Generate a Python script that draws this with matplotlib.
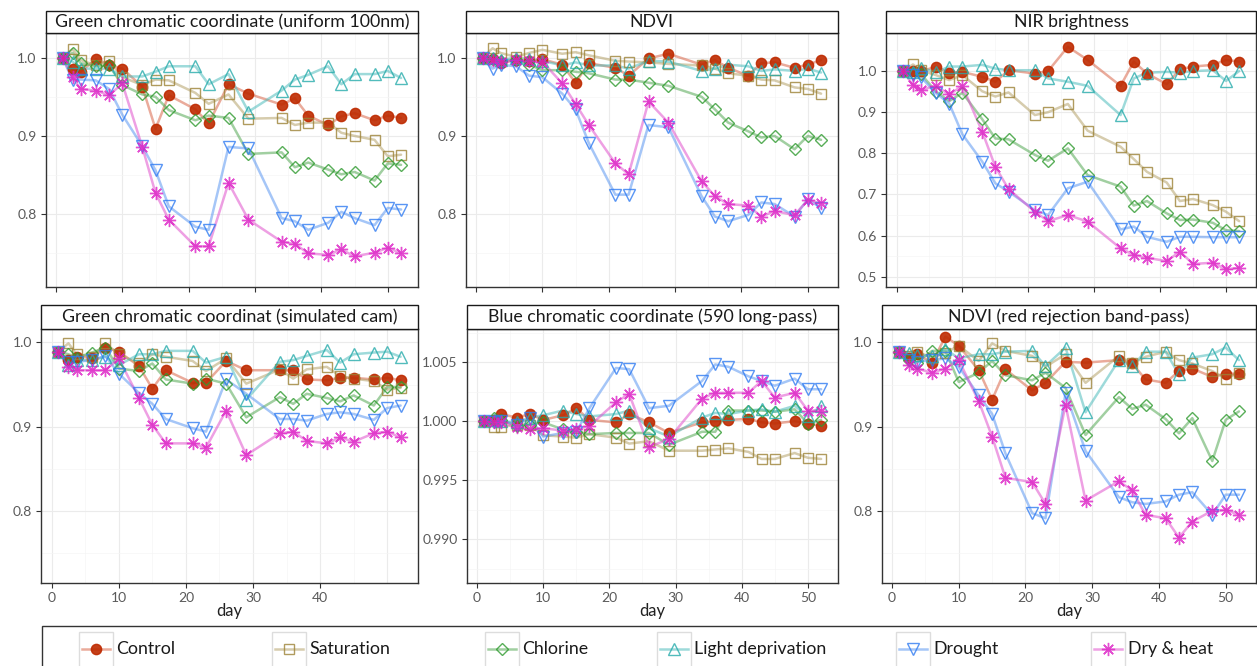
import matplotlib
matplotlib.use("Agg")
import matplotlib.pyplot as plt
from matplotlib.patches import Rectangle
from matplotlib.lines import Line2D
from matplotlib.ticker import MultipleLocator, FixedLocator

plt.rcParams['font.family'] = ['Lato', 'DejaVu Sans']

W, H = 1257, 666

##----- data -----##
days = [1, 2.5, 3.7, 6, 8, 10, 13, 15, 17, 21, 23, 26, 29, 34, 36, 38, 41, 43, 45, 48, 50, 52]
treatments = ['Control', 'Saturation', 'Chlorine', 'Light deprivation', 'Drought', 'Dry & heat']

# rows follow the order of treatments
gcc_uniform = [
    [1.000, 0.985, 0.982, 0.998, 0.991, 0.986, 0.963, 0.909, 0.952, 0.934, 0.916, 0.966, 0.954, 0.940, 0.948, 0.926, 0.914, 0.925, 0.929, 0.920, 0.926, 0.923],
    [1.000, 1.011, 0.997, 0.990, 0.996, 0.975, 0.965, 0.972, 0.971, 0.955, 0.941, 0.953, 0.922, 0.923, 0.914, 0.917, 0.917, 0.904, 0.900, 0.895, 0.874, 0.876],
    [1.000, 1.006, 0.993, 0.989, 0.990, 0.965, 0.953, 0.950, 0.933, 0.920, 0.926, 0.923, 0.877, 0.879, 0.860, 0.866, 0.857, 0.851, 0.854, 0.843, 0.865, 0.863],
    [1.000, 0.995, 0.986, 0.986, 0.986, 0.976, 0.976, 0.982, 0.989, 0.989, 0.966, 0.979, 0.931, 0.958, 0.972, 0.978, 0.989, 0.966, 0.979, 0.979, 0.983, 0.974],
    [1.000, 0.971, 0.972, 0.971, 0.960, 0.927, 0.887, 0.856, 0.810, 0.784, 0.780, 0.886, 0.884, 0.795, 0.791, 0.780, 0.789, 0.803, 0.795, 0.786, 0.808, 0.806],
    [1.000, 0.975, 0.960, 0.958, 0.952, 0.967, 0.886, 0.827, 0.793, 0.759, 0.759, 0.840, 0.793, 0.765, 0.762, 0.750, 0.748, 0.755, 0.746, 0.751, 0.757, 0.750],
]
ndvi = [
    [1.000, 0.998, 0.993, 0.997, 0.996, 0.998, 0.991, 0.968, 0.993, 0.987, 0.977, 0.999, 1.005, 0.991, 0.997, 0.987, 0.977, 0.993, 0.994, 0.987, 0.991, 0.997],
    [1.000, 1.012, 1.006, 1.001, 1.006, 1.010, 1.005, 1.007, 1.003, 0.996, 0.995, 0.994, 0.992, 0.990, 0.986, 0.980, 0.977, 0.972, 0.971, 0.962, 0.960, 0.954],
    [1.000, 0.998, 0.996, 0.997, 0.991, 0.984, 0.984, 0.982, 0.980, 0.972, 0.972, 0.968, 0.964, 0.950, 0.934, 0.917, 0.906, 0.898, 0.900, 0.883, 0.900, 0.895],
    [1.000, 1.000, 0.997, 1.000, 0.998, 0.996, 0.990, 0.994, 0.990, 0.990, 0.986, 0.996, 0.995, 0.983, 0.986, 0.991, 0.989, 0.983, 0.985, 0.983, 0.986, 0.981],
    [1.000, 0.986, 0.991, 0.989, 0.977, 0.975, 0.954, 0.934, 0.891, 0.825, 0.825, 0.914, 0.911, 0.823, 0.797, 0.791, 0.799, 0.815, 0.813, 0.797, 0.819, 0.808],
    [1.000, 0.997, 0.994, 0.997, 0.996, 0.995, 0.967, 0.941, 0.914, 0.865, 0.851, 0.944, 0.917, 0.842, 0.823, 0.813, 0.811, 0.797, 0.804, 0.799, 0.818, 0.814],
]
nir = [
    [1.000, 1.000, 1.000, 1.010, 0.996, 0.998, 0.986, 0.974, 1.002, 0.994, 1.000, 1.059, 1.027, 0.964, 1.023, 0.994, 0.968, 1.004, 1.011, 1.015, 1.027, 1.023],
    [1.000, 1.016, 1.002, 0.990, 0.978, 0.990, 0.951, 0.938, 0.948, 0.893, 0.900, 0.920, 0.855, 0.816, 0.786, 0.755, 0.729, 0.684, 0.689, 0.674, 0.658, 0.635],
    [1.000, 0.995, 0.993, 0.950, 0.927, 0.947, 0.883, 0.836, 0.834, 0.796, 0.782, 0.812, 0.747, 0.719, 0.673, 0.684, 0.654, 0.638, 0.639, 0.631, 0.613, 0.611],
    [1.000, 0.998, 1.008, 0.997, 1.011, 1.011, 1.015, 1.006, 1.002, 1.002, 0.982, 0.974, 0.964, 0.893, 0.982, 0.996, 0.998, 0.996, 1.000, 1.002, 0.976, 1.000],
    [1.000, 0.990, 0.985, 0.946, 0.921, 0.846, 0.780, 0.727, 0.707, 0.662, 0.650, 0.715, 0.731, 0.615, 0.622, 0.597, 0.585, 0.597, 0.597, 0.596, 0.596, 0.596],
    [1.000, 0.966, 0.954, 0.964, 0.943, 0.964, 0.853, 0.767, 0.713, 0.658, 0.635, 0.650, 0.634, 0.569, 0.553, 0.546, 0.538, 0.561, 0.531, 0.534, 0.518, 0.522],
]
gcc_cam = [
    [0.989, 0.979, 0.983, 0.982, 0.994, 0.989, 0.972, 0.945, 0.967, 0.952, 0.952, 0.978, 0.967, 0.967, 0.967, 0.956, 0.955, 0.958, 0.958, 0.956, 0.958, 0.955],
    [0.989, 0.999, 0.986, 0.983, 0.999, 0.986, 0.975, 0.986, 0.983, 0.978, 0.966, 0.981, 0.951, 0.968, 0.957, 0.968, 0.971, 0.960, 0.957, 0.954, 0.944, 0.946],
    [0.989, 0.986, 0.982, 0.988, 0.994, 0.969, 0.966, 0.975, 0.956, 0.951, 0.957, 0.951, 0.911, 0.935, 0.927, 0.939, 0.934, 0.930, 0.937, 0.925, 0.947, 0.947],
    [0.989, 0.973, 0.979, 0.979, 0.983, 0.973, 0.986, 0.986, 0.990, 0.990, 0.976, 0.983, 0.932, 0.977, 0.979, 0.984, 0.991, 0.976, 0.986, 0.988, 0.989, 0.983],
    [0.989, 0.977, 0.977, 0.979, 0.984, 0.963, 0.940, 0.927, 0.909, 0.898, 0.894, 0.956, 0.939, 0.909, 0.909, 0.907, 0.915, 0.917, 0.915, 0.908, 0.922, 0.925],
    [0.989, 0.971, 0.967, 0.967, 0.967, 0.981, 0.934, 0.902, 0.880, 0.880, 0.875, 0.919, 0.866, 0.892, 0.894, 0.883, 0.880, 0.887, 0.882, 0.892, 0.894, 0.887],
]
bcc_longpass = [
    [1.0000, 1.0001, 1.0006, 1.0003, 1.0006, 1.0001, 1.0005, 1.0011, 1.0001, 0.9999, 1.0006, 0.9999, 0.9990, 0.9999, 1.0000, 1.0001, 1.0002, 0.9999, 0.9998, 1.0000, 0.9998, 0.9996],
    [1.0000, 0.9995, 0.9995, 0.9997, 0.9997, 0.9988, 0.9987, 0.9986, 0.9989, 0.9986, 0.9981, 0.9983, 0.9975, 0.9975, 0.9976, 0.9977, 0.9974, 0.9968, 0.9968, 0.9973, 0.9969, 0.9968],
    [1.0000, 1.0003, 1.0001, 0.9996, 0.9997, 0.9999, 0.9993, 0.9991, 0.9989, 0.9990, 0.9990, 0.9990, 0.9980, 0.9991, 0.9991, 1.0009, 1.0009, 1.0009, 1.0008, 1.0010, 0.9998, 1.0001],
    [1.0000, 1.0001, 1.0000, 0.9999, 1.0003, 1.0005, 1.0009, 1.0006, 1.0004, 1.0006, 1.0009, 0.9994, 0.9987, 1.0003, 1.0007, 1.0006, 1.0009, 1.0010, 1.0008, 1.0013, 1.0004, 1.0013],
    [1.0000, 0.9999, 1.0000, 0.9997, 1.0003, 0.9987, 0.9990, 0.9991, 1.0011, 1.0045, 1.0044, 1.0011, 1.0013, 1.0034, 1.0048, 1.0046, 1.0038, 1.0034, 1.0030, 1.0036, 1.0027, 1.0027],
    [1.0000, 0.9999, 0.9999, 0.9995, 0.9993, 0.9994, 0.9992, 0.9993, 0.9996, 1.0016, 1.0023, 0.9978, 0.9985, 1.0019, 1.0024, 1.0024, 1.0024, 1.0034, 1.0020, 1.0024, 1.0009, 1.0009],
]
ndvi_redrej = [
    [0.989, 0.982, 0.986, 0.976, 1.007, 0.996, 0.967, 0.932, 0.968, 0.943, 0.952, 0.977, 0.976, 0.979, 0.975, 0.956, 0.952, 0.966, 0.969, 0.959, 0.963, 0.963],
    [0.989, 0.984, 0.989, 0.982, 0.988, 0.996, 0.978, 0.999, 0.990, 0.984, 0.971, 0.986, 0.952, 0.984, 0.975, 0.983, 0.989, 0.979, 0.975, 0.966, 0.957, 0.964],
    [0.989, 0.979, 0.976, 0.990, 0.990, 0.953, 0.964, 0.978, 0.961, 0.955, 0.964, 0.946, 0.890, 0.935, 0.921, 0.926, 0.909, 0.892, 0.910, 0.859, 0.908, 0.918],
    [0.989, 0.988, 0.985, 0.984, 0.992, 0.981, 0.986, 0.986, 0.989, 0.990, 0.972, 0.994, 0.917, 0.979, 0.972, 0.989, 0.989, 0.962, 0.982, 0.986, 0.994, 0.979],
    [0.989, 0.979, 0.977, 0.979, 0.981, 0.971, 0.937, 0.915, 0.868, 0.797, 0.791, 0.940, 0.871, 0.816, 0.810, 0.808, 0.811, 0.819, 0.822, 0.795, 0.819, 0.819],
    [0.989, 0.973, 0.969, 0.964, 0.969, 0.979, 0.930, 0.888, 0.839, 0.834, 0.808, 0.926, 0.812, 0.835, 0.824, 0.795, 0.791, 0.768, 0.787, 0.800, 0.801, 0.795],
]

titles = ['Green chromatic coordinate (uniform 100nm)', 'NDVI', 'NIR brightness',
          'Green chromatic coordinat (simulated cam)', 'Blue chromatic coordinate (590 long-pass)',
          'NDVI (red rejection band-pass)']

##----- styles -----##
point_colors = ['#BE2A00', '#9C8236', '#2E9A2E', '#27ABAB', '#2F7BF2', '#DD22C6']
line_colors = ['#D9664A', '#B5A26A', '#54A854', '#4FBDBD', '#5C97F2', '#E052CC']
markers = ['o', 's', 'D', '^', 'v', (8, 2, 0)]
msizes = [7.4, 6.6, 6.4, 8.8, 8.8, 9.5]
filled = [True, False, False, False, False, False]


def px_box(x0, y0, x1, y1):
    return [x0 / W, 1 - y1 / H, (x1 - x0) / W, (y1 - y0) / H]


fig = plt.figure(figsize=(W / 100, H / 100), dpi=100)

boxes = [px_box(45.7, 33, 418, 287), px_box(465.7, 33, 838, 287), px_box(886.3, 33, 1256, 287),
         px_box(41.3, 329, 417.7, 583), px_box(466.7, 329, 838, 583), px_box(881.7, 329, 1256, 583)]
strip_h = [22, 22, 22, 24, 24, 24]
ylims = [(0.707, 1.0315), (0.707, 1.0315), (0.475, 1.0925),
         (0.714, 1.016), (0.9863, 1.0078), (0.714, 1.016)]
yticks = [[0.8, 0.9, 1.0], [0.8, 0.9, 1.0], [0.5, 0.6, 0.7, 0.8, 0.9, 1.0],
          [0.8, 0.9, 1.0], [0.990, 0.995, 1.000, 1.005], [0.8, 0.9, 1.0]]
yminor = [0.05, 0.05, 0.05, 0.05, 0.0025, 0.05]
yfmt = ['%.1f', '%.1f', '%.1f', '%.1f', '%.3f', '%.1f']
panels = [gcc_uniform, ndvi, nir, gcc_cam, bcc_longpass, ndvi_redrej]

for k, data in enumerate(panels):
    ax = fig.add_axes(boxes[k])
    ax.set_xlim(-1.55, 54.55)
    ax.set_ylim(*ylims[k])

    # grid
    ax.set_yticks(yticks[k])
    ax.set_yticklabels([yfmt[k] % v for v in yticks[k]])
    ax.yaxis.set_minor_locator(MultipleLocator(yminor[k]))
    if k == 3:
        ax.set_xticks([0, 10, 20, 30, 40])
    else:
        ax.set_xticks([0, 10, 20, 30, 40, 50])
    ax.xaxis.set_minor_locator(FixedLocator([5, 15, 25, 35, 45]))
    ax.grid(which='major', color='#EBEBEB', lw=0.8)
    ax.grid(which='minor', color='#F5F5F5', lw=0.5)
    if k == 3:
        ax.axvline(50, color='#EBEBEB', lw=0.8, zorder=0)
    ax.set_axisbelow(True)

    ax.tick_params(which='major', length=3.6, width=0.8, color='#333333',
                   labelsize=10, labelcolor='#5A5A5A', pad=3)
    ax.tick_params(which='minor', length=0)
    for s in ax.spines.values():
        s.set_color('#333333')
        s.set_linewidth(1.0)
    if k < 3:
        ax.tick_params(axis='x', labelbottom=False)
    else:
        ax.set_xlabel('day', fontsize=12, color='#222222', labelpad=-1)

    # lines under points
    for i, vals in enumerate(data):
        ax.plot(days, vals, color=line_colors[i], lw=1.8, alpha=0.55, zorder=2,
                solid_capstyle='round')
    for i, vals in enumerate(data):
        ax.plot(days, vals, ls='none', marker=markers[i], ms=msizes[i],
                mfc=point_colors[i] if filled[i] else 'none', mec=point_colors[i],
                mew=1.0, alpha=0.9 if filled[i] else 0.8, zorder=3)

    # facet strip
    h = strip_h[k] / (boxes[k][3] * H)
    ax.add_patch(Rectangle((0, 1), 1, h, transform=ax.transAxes, clip_on=False,
                           fc='white', ec='#1A1A1A', lw=1.0, zorder=5))
    ax.text(0.5, 1 + h / 2, titles[k], transform=ax.transAxes, ha='center', va='center',
            fontsize=12.8, color='#1A1A1A', zorder=6)

##----- legend -----##
fig.add_artist(Rectangle((42.3 / W, -20 / H), 1240 / W, (666 - 625.7 + 20) / H,
                         transform=fig.transFigure, fc='white', ec='#333333', lw=1.0))
key_x = [96, 289, 502, 674, 913, 1108]
ly = 649
for i, name in enumerate(treatments):
    cx = key_x[i]
    fig.add_artist(Rectangle(((cx - 17) / W, (666 - 680) / H), 34 / W, (680 - 632) / H,
                             transform=fig.transFigure, fc='white', ec='#DDDDDD', lw=1.0))
    fig.add_artist(Line2D([(cx - 14) / W, (cx + 14) / W], [1 - ly / H, 1 - ly / H],
                          transform=fig.transFigure, color=line_colors[i], lw=1.8, alpha=0.55))
    fig.add_artist(Line2D([cx / W], [1 - ly / H], transform=fig.transFigure, ls='none',
                          marker=markers[i], ms=msizes[i],
                          mfc=point_colors[i] if filled[i] else 'none',
                          mec=point_colors[i], mew=1.0, alpha=0.9 if filled[i] else 0.8))
    fig.text((cx + 20) / W, 1 - ly / H, name, ha='left', va='center', fontsize=12.8,
             color='#1A1A1A')

fig.savefig('out.png', dpi=100)
